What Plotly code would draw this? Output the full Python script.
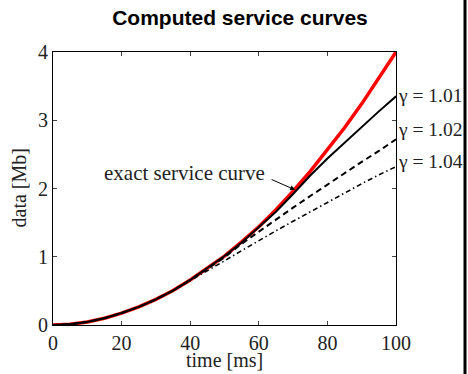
import plotly.graph_objects as go

time_ms = [0, 5, 10, 15, 20, 25, 30, 35, 40, 45, 50, 55, 60, 65, 70, 75, 80, 85, 90, 95, 100]
exact = [0, 0.01, 0.045, 0.1, 0.175, 0.265, 0.375, 0.505, 0.66, 0.83, 1.01, 1.22, 1.44, 1.69, 1.96, 2.25, 2.56, 2.89, 3.24, 3.61, 4.0]
g101 = [0, 0.01, 0.045, 0.1, 0.175, 0.265, 0.375, 0.505, 0.66, 0.83, 1.01, 1.21, 1.43, 1.66, 1.92, 2.19, 2.44, 2.67, 2.91, 3.13, 3.35]
g102 = [0, 0.01, 0.045, 0.1, 0.175, 0.265, 0.375, 0.505, 0.66, 0.82, 0.99, 1.19, 1.37, 1.55, 1.72, 1.89, 2.06, 2.23, 2.39, 2.55, 2.72]
g104 = [0, 0.01, 0.045, 0.1, 0.175, 0.265, 0.375, 0.505, 0.65, 0.79, 0.94, 1.09, 1.24, 1.38, 1.52, 1.66, 1.80, 1.94, 2.07, 2.20, 2.32]
gamma_labels = ["γ = 1.01", "γ = 1.02", "γ = 1.04"]
gamma_label_y = [3.37, 2.86, 2.39]
x_ticks = [0, 20, 40, 60, 80, 100]
y_ticks = [0, 1, 2, 3, 4]

serif = "Liberation Serif, Times New Roman, serif"
W, H = 468, 374
L, R, T, B = 53, 396, 52, 325  # plot area in page pixels
PW, PH = R - L, B - T

fig = go.Figure()
fig.add_trace(go.Scatter(x=time_ms, y=exact, mode="lines",
                         line=dict(color="#ff0000", width=3.5), showlegend=False))
fig.add_trace(go.Scatter(x=time_ms, y=g101, mode="lines",
                         line=dict(color="black", width=2), showlegend=False))
fig.add_trace(go.Scatter(x=time_ms, y=g102, mode="lines",
                         line=dict(color="black", width=2, dash="6px,4px"), showlegend=False))
fig.add_trace(go.Scatter(x=time_ms, y=g104, mode="lines",
                         line=dict(color="black", width=1.6, dash="5px,3px,1.5px,3px"), showlegend=False))

for lab, yy in zip(gamma_labels, gamma_label_y):
    fig.add_annotation(x=1.0, xref="paper", y=yy, yref="y", text=lab,
                       showarrow=False, xanchor="left", yanchor="middle",
                       font=dict(family=serif, size=19.5, color="#222"))

fig.add_annotation(x=(184.5 - L) / PW, xref="paper", y=(B - 173) / PH, yref="paper",
                   text="exact service curve", showarrow=False,
                   xanchor="center", yanchor="middle",
                   font=dict(family=serif, size=21, color="#222"))
fig.add_annotation(x=70.6, y=1.98, xref="x", yref="y", text="",
                   showarrow=True, ax=-25, ay=-11, arrowhead=2, arrowsize=1,
                   arrowwidth=1, arrowcolor="black")

fig.add_annotation(x=0.5, xref="paper", y=(B - 360) / PH, yref="paper",
                   text="time [ms]", showarrow=False, xanchor="center", yanchor="middle",
                   font=dict(family=serif, size=20, color="#222"))
fig.add_annotation(x=(18 - L) / PW, xref="paper", y=0.5, yref="paper",
                   text="data [Mb]", showarrow=False, textangle=-90,
                   xanchor="center", yanchor="middle",
                   font=dict(family=serif, size=20, color="#222"))

# thick black frame edge at the right of the picture
fig.add_shape(type="rect", xref="paper", yref="paper",
              x0=(463.5 - L) / PW, x1=(466.5 - L) / PW,
              y0=(B - H) / PH, y1=B / PH,
              fillcolor="black", line=dict(width=0), layer="above")

fig.update_layout(
    width=W, height=H,
    margin=dict(l=L, r=W - R, t=T, b=H - B),
    paper_bgcolor="white", plot_bgcolor="white",
    title=dict(text="<b>Computed service curves</b>", x=240 / W, xanchor="center",
               y=1 - 18 / H, yanchor="middle",
               font=dict(family="Liberation Sans, Arial, sans-serif", size=21, color="black")),
    xaxis=dict(range=[0, 100], tickvals=x_ticks, ticks="inside", ticklen=4,
               showline=True, linecolor="black", linewidth=1, mirror="ticks",
               showgrid=False, zeroline=False,
               tickfont=dict(family=serif, size=20, color="#222")),
    yaxis=dict(range=[0, 4], tickvals=y_ticks, ticks="inside", ticklen=4,
               showline=True, linecolor="black", linewidth=1, mirror="ticks",
               showgrid=False, zeroline=False,
               tickfont=dict(family=serif, size=20, color="#222")),
)

fig.write_html(
    "out.html",
    config={"displayModeBar": False},
    post_script="document.body.style.margin='0';document.body.style.overflow='hidden';",
)
